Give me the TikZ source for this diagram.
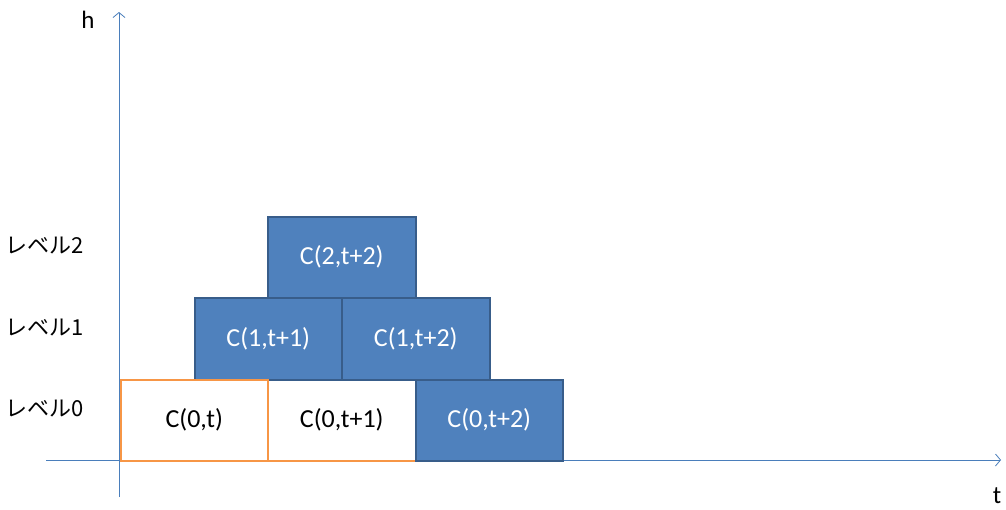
\documentclass[tikz,border=0pt]{standalone}
\usepackage{fontspec}
\setmainfont{Carlito}
\newfontfamily\jpfont{Noto Sans CJK JP}
\usetikzlibrary{arrows.meta}
\definecolor{boxblue}{HTML}{4F81BD}
\definecolor{boxedge}{HTML}{385D8A}
\definecolor{boxorange}{HTML}{F79646}
\definecolor{axisblue}{HTML}{4A7EBB}
\tikzset{
  cell/.style={rectangle, minimum width=147.5pt, minimum height=81.5pt, inner sep=0pt, anchor=north west, font=\fontsize{26}{30}\selectfont},
  bluecell/.style={cell, fill=boxblue, draw=boxedge, line width=2pt, text=white},
  whitecell/.style={cell, fill=white, draw=boxorange, line width=2pt, text=black},
  axis/.style={draw=axisblue, line width=0.8pt, -{Straight Barb[length=5pt,width=12pt,line width=0.8pt]}},
  lvl/.style={anchor=west, font=\jpfont\fontsize{22}{24}\selectfont, inner sep=0pt},
  axlabel/.style={font=\fontsize{25}{28}\selectfont, inner sep=0pt}
}
\begin{document}
\begin{tikzpicture}[x=1pt,y=-1pt]
\useasboundingbox (0,0) rectangle (1006,509);
\coordinate (ybot) at (119,497);
\coordinate (ytop) at (119,12);
\coordinate (xl) at (46,460);
\coordinate (xr) at (1001,460);
\draw[axis] (ybot) -- (ytop);
\draw[axis] (xl) -- (xr);
\node[axlabel] (h) at (88,20) {h};
\node[axlabel] (t) at (997,496) {t};
\node[whitecell] (c0t1) at (267,378.5) {C(0,t+1)};
\node[bluecell] (c1t1) at (193.5,297) {C(1,t+1)};
\node[bluecell] (c1t2) at (341,297) {C(1,t+2)};
\node[bluecell] (c2t2) at (267,215.5) {C(2,t+2)};
\node[bluecell] (c0t2) at (414.5,378.5) {C(0,t+2)};
\node[whitecell] (c0t) at (119.5,378.5) {C(0,t)};
\node[lvl] (l2) at (5,246) {レベル2};
\node[lvl] (l1) at (5,328) {レベル1};
\node[lvl] (l0) at (5,409) {レベル0};
\end{tikzpicture}
\end{document}
